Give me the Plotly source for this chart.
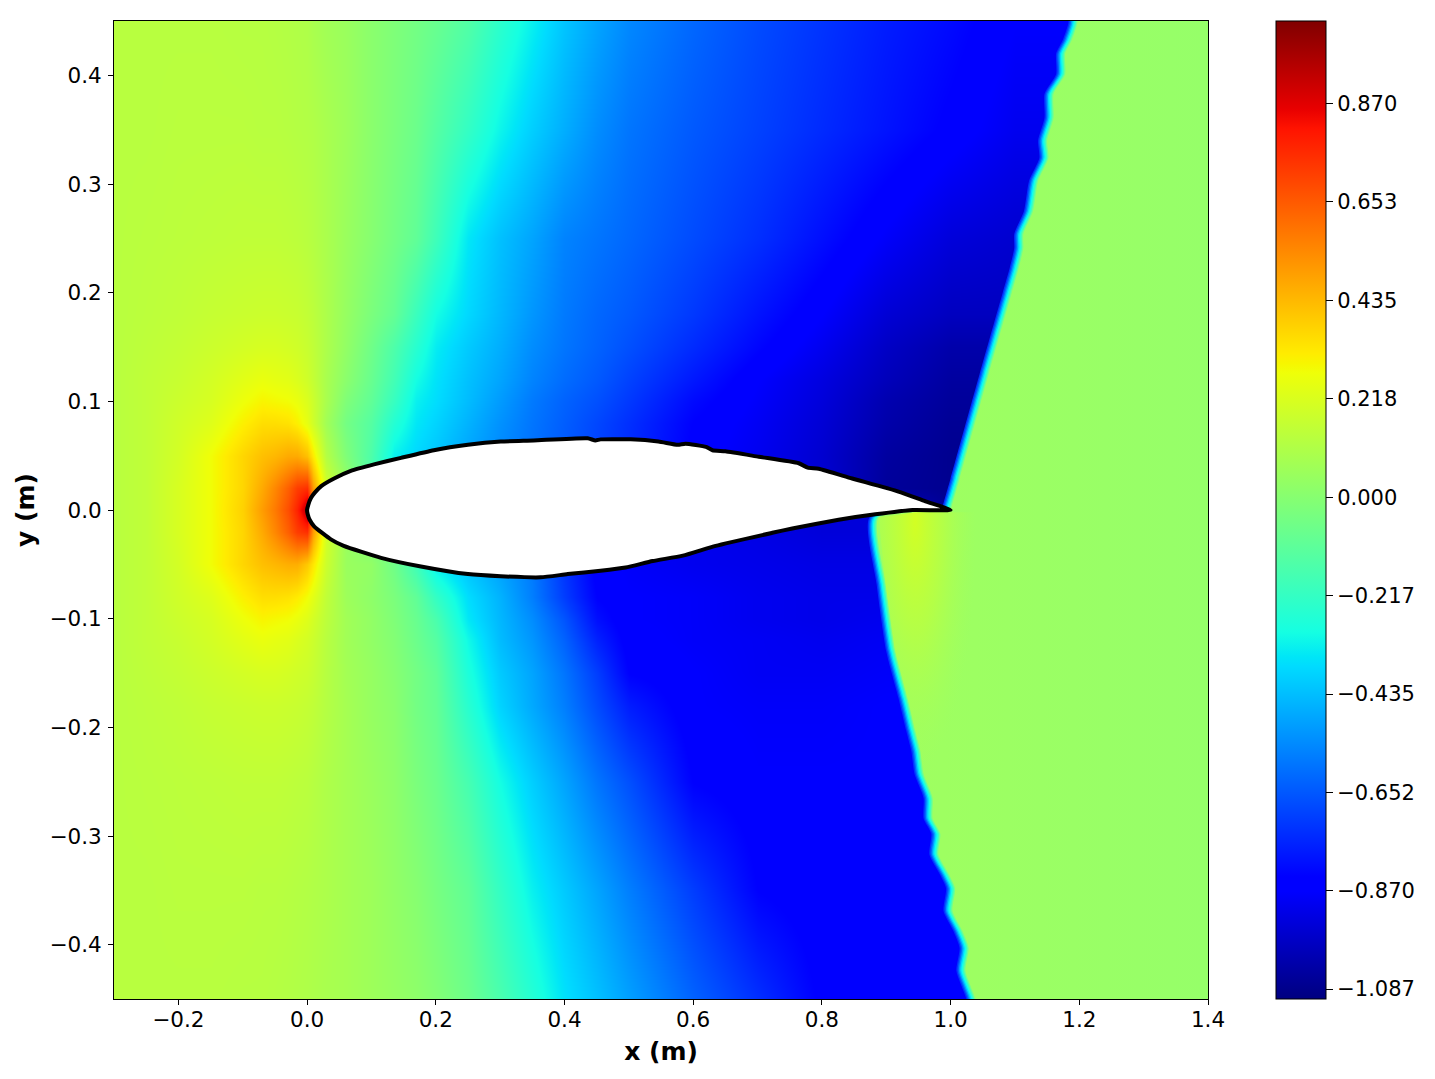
#!/usr/bin/env python

import plotly.graph_objects as go

# pressure field
grid_x = [-0.3, -0.25, -0.2, -0.15, -0.1, -0.07, -0.05, -0.03, -0.015, 0.0, 0.01, 0.03, 0.06,
          0.1, 0.135, 0.17, 0.2, 0.25, 0.3, 0.35, 0.4, 0.45, 0.5, 0.6, 0.7, 0.8, 0.9, 1.0, 1.1, 1.25]
grid_y = [-0.45, -0.35, -0.25, -0.18, -0.15, -0.12, -0.1, -0.08, -0.05, -0.02, 0.0,
          0.02, 0.05, 0.08, 0.1, 0.12, 0.15, 0.18, 0.25, 0.35, 0.45]
field = [
    [.13, .13, .13, .13, .125, .125, .12, .115, .11, .105, .10, .09, .08, .06, .04, .02, -.01, -.07, -.16, -.26, -.36, -.43, -.50, -.63, -.74, -.85, -.86, -.86, -.86, -.86],
    [.13, .13, .135, .135, .135, .13, .13, .125, .12, .115, .11, .10, .08, .06, .03, .0, -.04, -.10, -.22, -.33, -.41, -.49, -.57, -.71, -.84, -.87, -.86, -.86, -.86, -.86],
    [.13, .135, .14, .145, .15, .15, .15, .145, .14, .135, .125, .105, .08, .05, .02, -.03, -.07, -.17, -.30, -.40, -.49, -.59, -.67, -.84, -.87, -.87, -.87, -.87, -.87, -.87],
    [.13, .14, .15, .165, .175, .18, .18, .175, .17, .16, .15, .12, .08, .04, .01, -.05, -.09, -.25, -.39, -.48, -.57, -.68, -.78, -.87, -.88, -.88, -.87, -.87, -.87, -.87],
    [.13, .145, .16, .18, .20, .21, .21, .20, .19, .18, .165, .125, .075, .04, .0, -.05, -.10, -.28, -.41, -.49, -.59, -.71, -.84, -.87, -.89, -.89, -.88, -.88, -.88, -.88],
    [.13, .15, .17, .20, .24, .26, .25, .24, .22, .20, .18, .13, .07, .03, -.01, -.07, -.13, -.31, -.44, -.52, -.63, -.77, -.86, -.88, -.89, -.90, -.89, -.89, -.89, -.89],
    [.13, .15, .18, .21, .27, .30, .29, .28, .26, .23, .20, .14, .07, .03, -.02, -.08, -.16, -.35, -.45, -.54, -.66, -.81, -.87, -.88, -.90, -.91, -.90, -.90, -.90, -.90],
    [.13, .15, .19, .23, .31, .35, .35, .34, .32, .28, .24, .15, .06, .02, -.03, -.10, -.22, -.37, -.46, -.57, -.71, -.84, -.87, -.88, -.90, -.91, -.91, -.91, -.91, -.91],
    [.13, .15, .20, .28, .37, .42, .44, .46, .46, .40, .33, .18, .05, .03, -.06, -.19, -.34, -.43, -.50, -.58, -.73, -.86, -.88, -.90, -.91, -.92, -.92, -.92, -.92, -.92],
    [.13, .15, .21, .28, .37, .47, .55, .64, .72, .75, .50, .20, .05, -.05, -.10, -.20, -.30, -.40, -.50, -.58, -.70, -.86, -.88, -.90, -.92, -.94, -.94, -.94, -.94, -.94],
    [.13, .15, .21, .28, .38, .50, .58, .68, .78, .95, .60, .30, .10, -.05, -.10, -.20, -.30, -.40, -.50, -.58, -.70, -.86, -.88, -.90, -.92, -.94, -.94, -1.08, -1.08, -1.08],
    [.13, .15, .21, .28, .37, .47, .55, .64, .72, .75, .50, .20, .05, -.15, -.33, -.38, -.42, -.49, -.55, -.60, -.65, -.70, -.75, -.85, -.90, -.95, -1.06, -1.08, -1.08, -1.08],
    [.13, .15, .20, .28, .37, .42, .44, .47, .47, .42, .32, .12, -.02, -.15, -.33, -.38, -.42, -.49, -.55, -.60, -.65, -.70, -.75, -.85, -.90, -.96, -1.05, -1.08, -1.08, -1.08],
    [.13, .15, .19, .23, .31, .35, .35, .34, .31, .25, .19, .07, -.05, -.13, -.26, -.35, -.39, -.46, -.53, -.59, -.64, -.69, -.74, -.84, -.89, -.95, -1.03, -1.07, -1.07, -1.07],
    [.13, .15, .18, .21, .27, .30, .29, .28, .26, .22, .18, .09, -.02, -.10, -.21, -.33, -.37, -.44, -.51, -.58, -.63, -.67, -.72, -.82, -.88, -.94, -1.02, -1.06, -1.06, -1.06],
    [.13, .15, .17, .20, .24, .26, .25, .24, .22, .19, .16, .09, .01, -.08, -.18, -.30, -.36, -.43, -.49, -.56, -.61, -.65, -.70, -.79, -.87, -.93, -1.0, -1.05, -1.05, -1.05],
    [.13, .145, .16, .18, .20, .21, .21, .20, .19, .17, .15, .10, .03, -.06, -.15, -.25, -.34, -.41, -.47, -.54, -.59, -.63, -.67, -.75, -.83, -.90, -.98, -1.03, -1.03, -1.03],
    [.13, .14, .15, .165, .175, .18, .18, .175, .17, .155, .14, .10, .04, -.03, -.09, -.20, -.30, -.38, -.45, -.52, -.58, -.62, -.65, -.72, -.80, -.87, -.95, -.99, -.99, -.99],
    [.13, .135, .14, .145, .15, .15, .15, .145, .14, .13, .12, .095, .05, .0, -.05, -.10, -.19, -.35, -.43, -.49, -.56, -.59, -.62, -.68, -.74, -.81, -.88, -.94, -.96, -.96],
    [.13, .13, .135, .135, .135, .13, .13, .125, .12, .115, .11, .09, .06, .01, -.03, -.07, -.13, -.22, -.32, -.40, -.47, -.54, -.59, -.65, -.70, -.75, -.80, -.85, -.90, -.90],
    [.13, .13, .13, .13, .125, .125, .12, .115, .11, .105, .09, .07, .05, .01, -.02, -.05, -.08, -.14, -.24, -.33, -.42, -.49, -.55, -.62, -.68, -.73, -.78, -.82, -.87, -.87],
]

# airfoil outline, leading edge -> upper surface -> trailing edge -> lower surface
airfoil_x = [0, .002, .006, .012, .022, .042, .068, .104, .146, .197, .250, .301, .352, .436, .448, .456, .503, .546, .576,
             .588, .620, .630, .650, .702, .764, .778, .795, .847, .919, .961, 1.0,
             .941, .883, .826, .754, .723, .635, .584, .537, .495, .456, .405, .363, .301, .250, .177, .115, .057,
             .037, .011, .004, .001, 0]
airfoil_y = [0, .005, .011, .016, .022, .029, .036, .042, .048, .055, .060, .063, .064, .066, .064, .065, .065, .063, .060,
             .061, .058, .055, .054, .049, .043, .039, .038, .029, .017, .008, 0,
             0, -.004, -.009, -.017, -.021, -.033, -.042, -.047, -.053, -.056, -.059, -.062, -.061, -.059, -.052, -.044, -.033,
             -.027, -.015, -.009, -.004, 0]

# shock fronts
shock_up_x = [1.0, 1.014, 1.059, 1.095, 1.106, 1.113, 1.113, 1.128, 1.136, 1.152, 1.150, 1.160, 1.160, 1.178, 1.178, 1.188, 1.197, 1.20]
shock_up_y = [0.0, .029, .125, .2, .223, .241, .254, .275, .303, .324, .340, .361, .383, .401, .420, .432, .448, .47]
shock_low_x = [1.045, 1.038, 1.023, 1.028, 1.018, 1.003, 1.007, .997, .981, .984, .972, .972, .958, .953, .945, .933, .914, .899, .888]
shock_low_y = [-.47, -.449, -.424, -.403, -.387, -.369, -.348, -.335, -.317, -.298, -.284, -.265, -.243, -.222, -.203, -.173, -.130, -.068, -.007]

cbar_ticks = [0.870, 0.653, 0.435, 0.218, 0.000, -0.217, -0.435, -0.652, -0.870, -1.087]
cbar_text = ["0.870", "0.653", "0.435", "0.218", "0.000", "\u22120.217", "\u22120.435", "\u22120.652", "\u22120.870", "\u22121.087"]

# matplotlib jet
jet = [
    [0, "rgb(0,0,128)"], [.11, "rgb(0,0,255)"], [.125, "rgb(0,0,255)"], [.34, "rgb(0,219,255)"],
    [.35, "rgb(0,230,247)"], [.375, "rgb(21,255,226)"], [.64, "rgb(239,255,8)"], [.65, "rgb(247,246,0)"],
    [.66, "rgb(255,236,0)"], [.89, "rgb(255,19,0)"], [.91, "rgb(232,0,0)"], [1, "rgb(128,0,0)"],
]
FONT = "DejaVu Sans"

fig = go.Figure()

fig.add_trace(go.Heatmap(
    x=grid_x, y=grid_y, z=field, zmin=-1.109, zmax=1.053, zsmooth="best",
    colorscale=jet, hoverinfo="skip",
    colorbar=dict(
        x=1.0622, xanchor="left", xpad=0, y=0.5, yanchor="middle", ypad=0,
        len=1, lenmode="fraction", thickness=50, thicknessmode="pixels",
        outlinewidth=1, outlinecolor="black",
        tickmode="array", tickvals=cbar_ticks, ticktext=cbar_text,
        ticks="outside", ticklen=7, tickwidth=1, tickcolor="black",
        tickfont=dict(family=FONT, size=21, color="black"),
    ),
))

# region behind the shock, with the smeared edge built from shifted layers
behind_edge_x = shock_low_x + [1.0] + shock_up_x
behind_edge_y = shock_low_y + [0.0] + shock_up_y
layers = [
    (.014, "rgb(0,50,255)"), (.012, "rgb(0,100,255)"), (.010, "rgb(0,160,255)"), (.008, "rgb(0,220,255)"),
    (.006, "rgb(20,255,235)"), (.004, "rgb(60,255,190)"), (.002, "rgb(110,255,145)"),
]
for shift, color in layers:
    fig.add_trace(go.Scatter(
        x=[v - shift for v in behind_edge_x] + [1.45, 1.45],
        y=behind_edge_y + [.47, -.47],
        mode="lines", line=dict(width=0, shape="spline", smoothing=0.6), fill="toself", fillcolor=color,
        showlegend=False, hoverinfo="skip",
    ))
fig.add_trace(go.Scatter(
    x=behind_edge_x + [1.45, 1.45],
    y=behind_edge_y + [.47, -.47],
    mode="lines", line=dict(width=0, shape="spline", smoothing=0.6), fill="toself",
    fillgradient=dict(type="horizontal", colorscale=[[0, "rgb(160,255,95)"], [1, "rgb(148,255,107)"]]),
    showlegend=False, hoverinfo="skip",
))

# yellow patch under the trailing edge, thin spikes only stretch its bounding box
fig.add_trace(go.Scatter(
    x=[.958, .953, .945, .933, .914, .899, .888, .85, .888, .945, .945, .945, 1.0, 1.04, 1.04, .958],
    y=[-.24, -.222, -.203, -.173, -.130, -.068, -.007, -.007, -.007, -.002, .22, -.002, -.002, -.002, -.24, -.24],
    mode="lines", line=dict(width=0), fill="toself",
    fillgradient=dict(type="radial", colorscale=[[0, "rgba(210,255,35,1)"], [.45, "rgba(185,255,65,.8)"], [1, "rgba(165,255,90,0)"]]),
    showlegend=False, hoverinfo="skip",
))

fig.add_trace(go.Scatter(
    x=airfoil_x, y=airfoil_y, mode="lines",
    line=dict(color="black", width=4, shape="spline", smoothing=0.5), fill="toself", fillcolor="white",
    showlegend=False, hoverinfo="skip",
))

axis_style = dict(
    showgrid=False, zeroline=False, showline=True, mirror=True, linecolor="black", linewidth=1,
    ticks="outside", ticklen=5, tickwidth=1, tickcolor="black", tickformat=".1f",
    tickfont=dict(family=FONT, size=21.5, color="black"),
)
fig.update_xaxes(
    range=[-0.3, 1.4], tick0=-0.2, dtick=0.2, ticklabelstandoff=-4,
    title=dict(text="x (m)", font=dict(family=FONT, size=25, color="black", weight=700), standoff=11),
    **axis_style,
)
fig.update_yaxes(
    range=[-0.45, 0.45], tick0=0, dtick=0.1, ticklabelstandoff=2,
    title=dict(text="y (m)", font=dict(family=FONT, size=25, color="black", weight=700), standoff=7),
    **axis_style,
)
fig.update_layout(
    width=1435, height=1079, autosize=False,
    margin=dict(l=114, r=227, t=21, b=80),
    paper_bgcolor="white", plot_bgcolor="white", showlegend=False,
)

fig.write_html("out.html", config=dict(displayModeBar=False), post_script="document.body.style.margin='0';")
